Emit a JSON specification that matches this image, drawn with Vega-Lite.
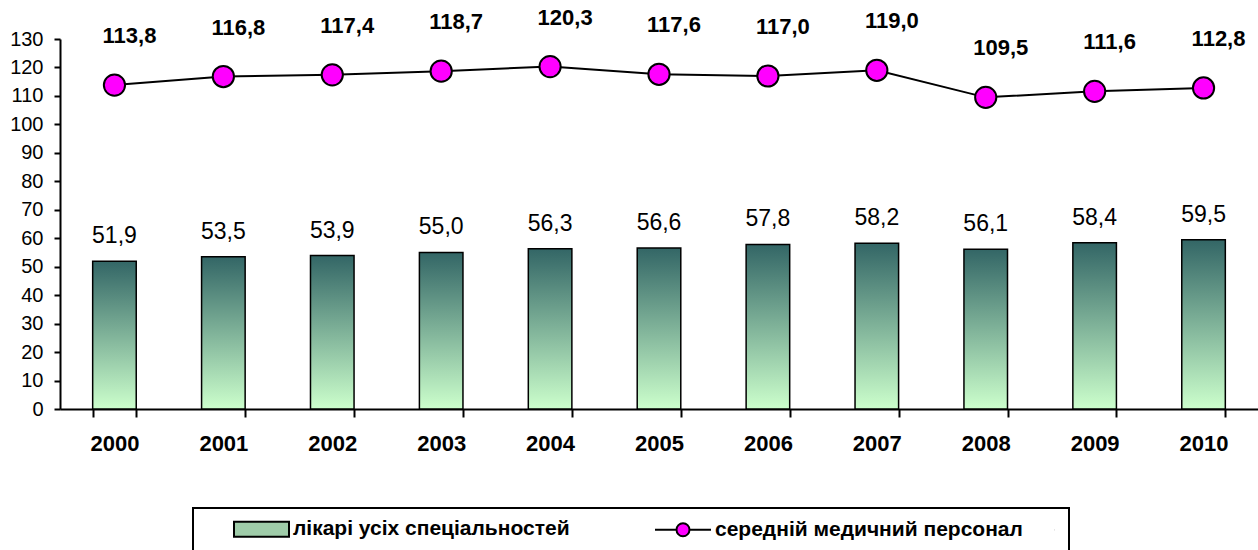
{
  "$schema": "https://vega.github.io/schema/vega-lite/v6.json",
  "width": 1198,
  "height": 370,
  "autosize": {"type": "none"},
  "padding": {"left": 60, "top": 39, "right": 0, "bottom": 141},
  "background": "white",
  "config": {
    "locale": {"number": {"decimal": ",", "thousands": " ", "grouping": [3], "currency": ["", ""]}},
    "view": {"stroke": null},
    "font": "Liberation Sans",
    "legend": {
      "orient": "none", "legendX": 133, "legendY": 469,
      "direction": "horizontal", "columns": 2, "columnPadding": 55,
      "padding": 10, "strokeColor": "black", "strokeWidth": 2,
      "labelFont": "Liberation Sans", "labelFontWeight": "bold", "labelFontSize": 21,
      "labelColor": "black", "labelOffset": 68, "labelLimit": 1000,
      "symbolSize": 400, "symbolStrokeWidth": 2, "symbolStrokeColor": "black", "symbolOpacity": 1
    }
  },
  "data": {
    "values": [
      {"year": "2000", "series": "лікарі усіх спеціальностей", "value": 51.9},
      {"year": "2001", "series": "лікарі усіх спеціальностей", "value": 53.5},
      {"year": "2002", "series": "лікарі усіх спеціальностей", "value": 53.9},
      {"year": "2003", "series": "лікарі усіх спеціальностей", "value": 55.0},
      {"year": "2004", "series": "лікарі усіх спеціальностей", "value": 56.3},
      {"year": "2005", "series": "лікарі усіх спеціальностей", "value": 56.6},
      {"year": "2006", "series": "лікарі усіх спеціальностей", "value": 57.8},
      {"year": "2007", "series": "лікарі усіх спеціальностей", "value": 58.2},
      {"year": "2008", "series": "лікарі усіх спеціальностей", "value": 56.1},
      {"year": "2009", "series": "лікарі усіх спеціальностей", "value": 58.4},
      {"year": "2010", "series": "лікарі усіх спеціальностей", "value": 59.5},
      {"year": "2000", "series": "середній медичний персонал", "value": 113.8},
      {"year": "2001", "series": "середній медичний персонал", "value": 116.8},
      {"year": "2002", "series": "середній медичний персонал", "value": 117.4},
      {"year": "2003", "series": "середній медичний персонал", "value": 118.7},
      {"year": "2004", "series": "середній медичний персонал", "value": 120.3},
      {"year": "2005", "series": "середній медичний персонал", "value": 117.6},
      {"year": "2006", "series": "середній медичний персонал", "value": 117.0},
      {"year": "2007", "series": "середній медичний персонал", "value": 119.0},
      {"year": "2008", "series": "середній медичний персонал", "value": 109.5},
      {"year": "2009", "series": "середній медичний персонал", "value": 111.6},
      {"year": "2010", "series": "середній медичний персонал", "value": 112.8}
    ]
  },
  "encoding": {
    "x": {
      "field": "year", "type": "ordinal",
      "scale": {"paddingInner": 0.6, "paddingOuter": 0.3},
      "axis": {
        "title": null, "labelAngle": 0, "labelFont": "Liberation Sans", "labelFontWeight": "bold",
        "labelFontSize": 22, "labelColor": "black", "labelPadding": 16,
        "tickBand": "extent", "tickSize": 8, "tickWidth": 2, "tickColor": "black",
        "domainColor": "black", "domainWidth": 2, "grid": false
      }
    },
    "y": {
      "field": "value", "type": "quantitative",
      "scale": {"domain": [0, 130], "nice": false},
      "axis": {
        "title": null, "values": [0, 10, 20, 30, 40, 50, 60, 70, 80, 90, 100, 110, 120, 130],
        "format": "d", "labelFont": "Liberation Sans", "labelFontSize": 20, "labelColor": "black",
        "tickSize": 6, "tickWidth": 2, "tickColor": "black", "domainColor": "black", "domainWidth": 2,
        "labelPadding": 11, "grid": false
      }
    }
  },
  "layer": [
    {
      "transform": [{"filter": {"field": "series", "equal": "лікарі усіх спеціальностей"}}],
      "mark": {
        "type": "bar", "stroke": "black", "strokeWidth": 1.5,
        "fill": {"gradient": "linear", "x1": 0, "y1": 0, "x2": 0, "y2": 1,
          "stops": [{"offset": 0, "color": "#336666"}, {"offset": 1, "color": "#ccffcc"}]}
      }
    },
    {
      "transform": [{"filter": {"field": "series", "equal": "лікарі усіх спеціальностей"}}],
      "mark": {"type": "text", "baseline": "alphabetic", "dy": -18, "fontSize": 23, "font": "Liberation Sans", "color": "black"},
      "encoding": {"text": {"field": "value", "type": "quantitative", "format": ".1f"}}
    },
    {
      "transform": [{"filter": {"field": "series", "equal": "середній медичний персонал"}}],
      "mark": {"type": "line", "stroke": "black", "strokeWidth": 2}
    },
    {
      "transform": [{"filter": {"field": "series", "equal": "середній медичний персонал"}}],
      "mark": {"type": "point", "filled": true, "size": 450, "fill": "#ff00ff", "stroke": "black", "strokeWidth": 2, "opacity": 1}
    },
    {
      "transform": [{"filter": {"field": "series", "equal": "середній медичний персонал"}}],
      "mark": {"type": "point", "filled": true, "strokeWidth": 2, "opacity": 0},
      "encoding": {
        "fill": {
          "field": "series", "type": "nominal",
          "scale": {"domain": ["лікарі усіх спеціальностей", "середній медичний персонал"], "range": ["#9fcca9", "#ff00ff"]},
          "legend": {"title": null}
        },
        "stroke": {
          "field": "series", "type": "nominal",
          "scale": {"domain": ["лікарі усіх спеціальностей", "середній медичний персонал"], "range": ["black", "black"]},
          "legend": {"title": null}
        },
        "shape": {
          "field": "series", "type": "nominal",
          "scale": {
            "domain": ["лікарі усіх спеціальностей", "середній медичний персонал"],
            "range": [
              "M2,-0.75H7.5V0.75H2Z",
              "M1.9,0H4.05M5.35,0H7.5M4.05,0A0.65,0.65 0 1,0 5.35,0A0.65,0.65 0 1,0 4.05,0ZM41.89,0H41.9"
            ]
          },
          "legend": {"title": null}
        }
      }
    },
    {
      "transform": [{"filter": {"field": "series", "equal": "середній медичний персонал"}}],
      "mark": {"type": "text", "baseline": "alphabetic", "dx": 15, "dy": -42, "fontSize": 22, "fontWeight": "bold", "font": "Liberation Sans", "color": "black"},
      "encoding": {"text": {"field": "value", "type": "quantitative", "format": ".1f"}}
    }
  ]
}
